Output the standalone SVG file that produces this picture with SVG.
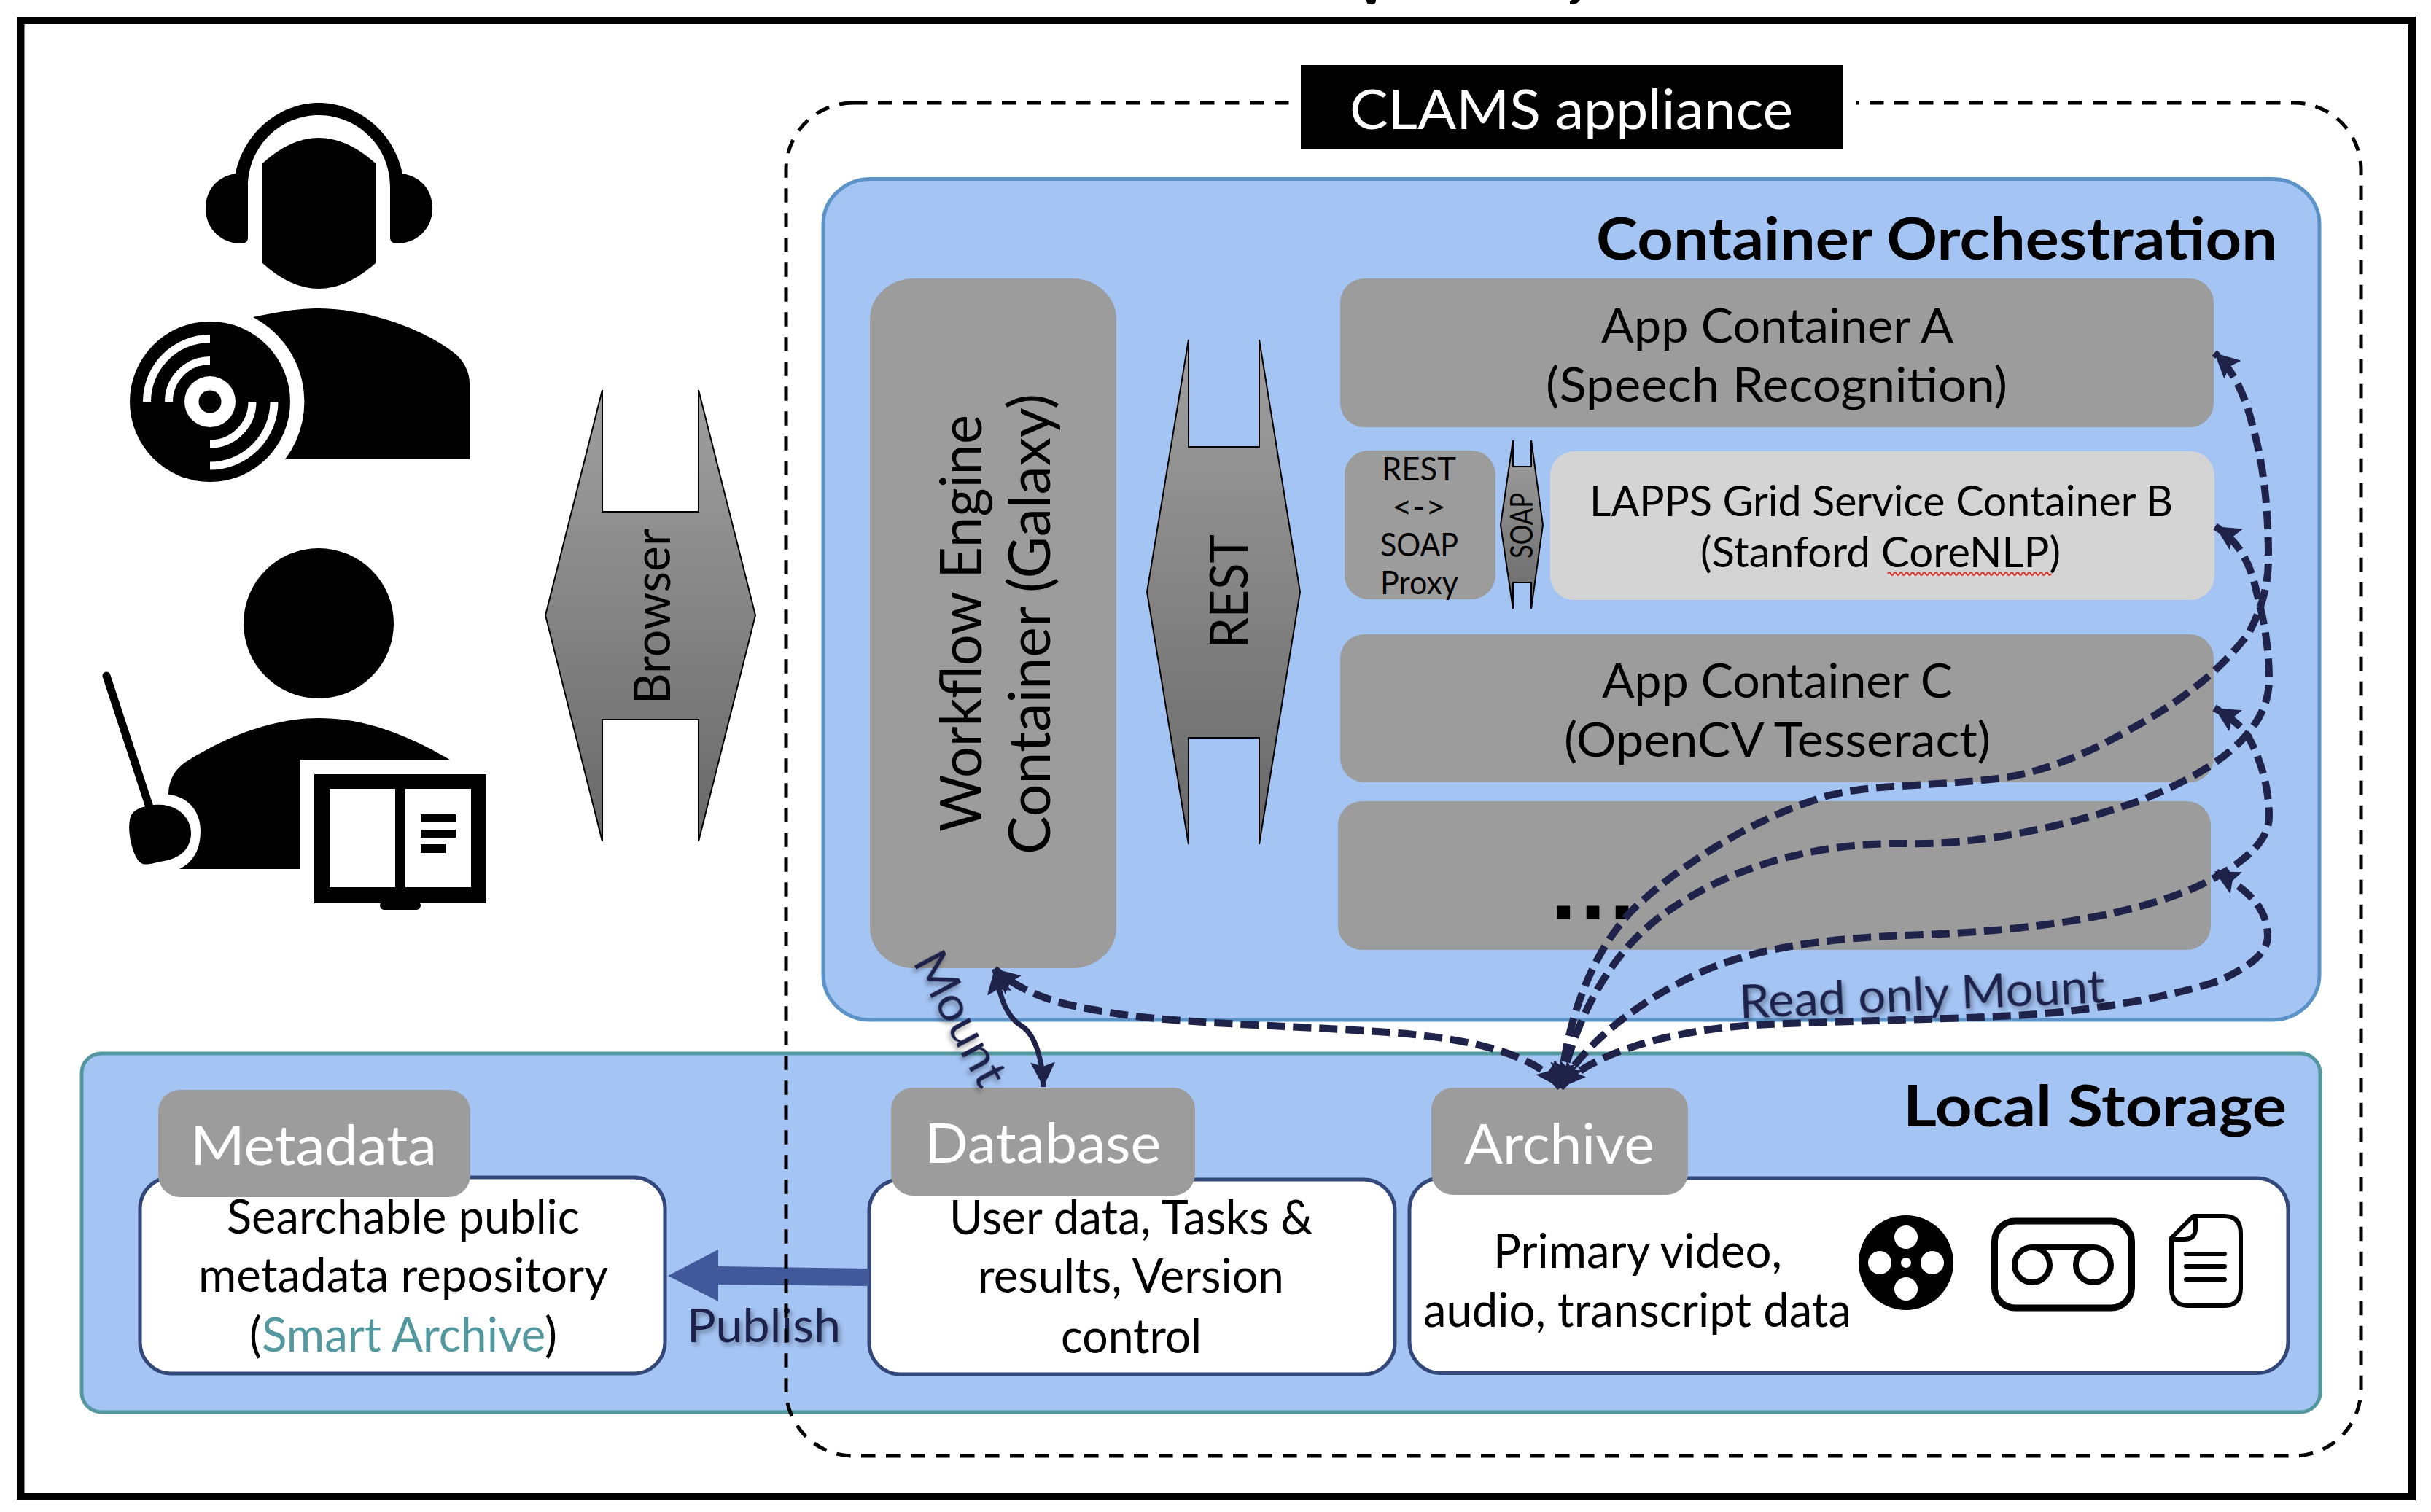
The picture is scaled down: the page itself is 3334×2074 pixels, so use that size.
<svg xmlns="http://www.w3.org/2000/svg" width="3334" height="2074" viewBox="0 0 3334 2074">
<style>
text{font-family:Lato,"Open Sans","Liberation Sans",sans-serif;fill:#000}
.c{font-size:66px}
.s{font-size:44px}
.w{fill:#fff;font-size:76px}
.b{font-weight:700;font-size:80px}
.n{fill:#1f2249;font-size:64px;filter:url(#sh)}
.g{fill:#9c9c9c}
.wb{fill:#fff;stroke:#32477a;stroke-width:5}
.pan{fill:#a4c4f4;stroke-width:5}
.dash{fill:none;stroke:#1f2249;stroke-width:10;stroke-dasharray:25 11;marker-end:url(#ah);marker-start:url(#ah)}
.arr{fill:url(#gr);stroke:#000;stroke-width:2}
.k{fill:#000}
.hole{fill:#fff}
</style>
<defs>
<linearGradient id="gr" x1="0" y1="0" x2="0" y2="1"><stop offset="0" stop-color="#a0a0a0"/><stop offset="1" stop-color="#686868"/></linearGradient>
<marker id="ah" markerUnits="userSpaceOnUse" viewBox="0 0 34 34" markerWidth="34" markerHeight="34" refX="34" refY="17" orient="auto-start-reverse"><path d="M0,0L34,17L0,34L6,17Z" fill="#1f2249"/></marker>
<filter id="sh" x="-20%" y="-20%" width="140%" height="140%"><feDropShadow dx="3" dy="4" stdDeviation="3" flood-color="#000" flood-opacity=".35"/></filter>
</defs>
<rect width="3334" height="2074" fill="#fff"/>
<g id="title-fragments" class="k"><rect x="1874" y="-8" width="13" height="14" rx="5"/><path d="M2160,-4L2168,-2Q2164,6 2156,6L2153,6L2153,2Z"/></g>
<rect id="frame" x="28.5" y="28" width="3279.5" height="2025" fill="none" stroke="#000" stroke-width="10"/>

<g id="user-archivist" class="k">
<path d="M360,224Q437,154 515,224V361Q437,431 360,361Z"/>
<path d="M282,286C282,258 300,242 323,238C335,180 385,141 437,141C490,141 540,180 552,238C575,242 593,258 593,286C593,315 570,334 545,334C540,334 535,332 535,326V257C535,200 490,158 437,158C385,158 340,200 340,257V326C340,332 336,334 330,334C305,334 282,315 282,286Z"/>
<path d="M347,435C385,427 410,423 437,423C500,423 580,450 624,485C638,497 644,512 644,526V630H391A131,131 0 0 0 347,435Z"/>
<circle cx="288" cy="551" r="110"/>
<circle cx="288" cy="551" r="35" fill="#fff"/><circle cx="288" cy="551" r="15.5"/>
<g fill="none" stroke="#fff" stroke-width="11"><path d="M201.500,551A86.500,86.500 0 0 1 288,464.500"/><path d="M231.500,551A56.500,56.500 0 0 1 288,494.500"/><path d="M346,551A58,58 0 0 1 288,609"/><path d="M376,551A88,88 0 0 1 288,639"/></g>
</g>
<g id="user-teacher" class="k">
<circle cx="437" cy="855" r="103"/>
<path d="M617,1042H411V1192H246C265,1183 275,1165 275,1140C275,1110 255,1092 231,1090C231,1070 240,1055 255,1045C310,1010 375,985 437,985C510,985 570,1015 617,1042Z"/>
<path d="M205,1105C240,1098 262,1120 262,1143C262,1165 245,1178 225,1181C205,1185 195,1190 188,1178C180,1165 175,1140 178,1125C180,1112 190,1108 205,1105Z"/>
<path d="M146,927L205,1107" stroke="#000" stroke-width="11" stroke-linecap="round"/>
<rect x="431" y="1062" width="236" height="177"/>
<rect x="521" y="1236" width="56" height="12" rx="6"/>
<rect class="hole" x="452" y="1082" width="90" height="135"/><rect class="hole" x="556" y="1082" width="90" height="135"/>
<rect x="577" y="1117" width="48" height="11"/><rect x="577" y="1138" width="48" height="11"/><rect x="577" y="1158" width="34" height="12"/>
</g>

<g id="browser-arrow"><path class="arr" d="M826,535V702H958V535L1036,844L958,1154V987H826V1154L748,844Z"/>
<text transform="translate(919,966) rotate(-90)" style="font-size:70px" textLength="241" lengthAdjust="spacingAndGlyphs">Browser</text></g>

<g id="container-orchestration"><rect class="pan" x="1129" y="245.500" width="2052" height="1153.500" rx="65" ry="62" stroke="#5b93c9"/>
<text class="b" x="2189" y="356" textLength="934" lengthAdjust="spacingAndGlyphs">Container Orchestration</text></g>
<g id="local-storage"><rect class="pan" x="112" y="1445" width="3070" height="492" rx="27" ry="27" stroke="#53989f"/>
<text class="b" style="font-size:78px" x="2610" y="1545" textLength="526" lengthAdjust="spacingAndGlyphs">Local Storage</text></g>

<g id="workflow-engine"><rect class="g" x="1193" y="382" width="338" height="946" rx="60" ry="56"/>
<text transform="translate(1346,1141) rotate(-90)" style="font-size:80px" textLength="572" lengthAdjust="spacingAndGlyphs">Workflow Engine</text>
<text transform="translate(1440,1172) rotate(-90)" style="font-size:80px" textLength="632" lengthAdjust="spacingAndGlyphs">Container (Galaxy)</text></g>
<g id="rest-arrow"><path class="arr" d="M1630,466V613H1727V466L1783,812L1727,1158V1012H1630V1158L1573,812Z"/>
<text transform="translate(1711,889) rotate(-90)" style="font-size:72px" textLength="156" lengthAdjust="spacingAndGlyphs">REST</text></g>
<g id="app-a"><rect class="g" x="1838" y="382" width="1198" height="204" rx="33"/>
<text class="c" x="2196" y="470" textLength="483" lengthAdjust="spacingAndGlyphs">App Container A</text>
<text class="c" x="2120" y="551" textLength="633" lengthAdjust="spacingAndGlyphs">(Speech Recognition)</text></g>
<g id="proxy"><rect class="g" x="1844" y="618" width="207" height="204" rx="33"/>
<text class="s" x="1895" y="659" textLength="102" lengthAdjust="spacingAndGlyphs">REST</text>
<text class="s" x="1909" y="711" textLength="74" lengthAdjust="spacingAndGlyphs">&lt;-&gt;</text>
<text class="s" x="1893" y="763" textLength="107" lengthAdjust="spacingAndGlyphs">SOAP</text>
<text class="s" x="1893" y="815" textLength="107" lengthAdjust="spacingAndGlyphs">Proxy</text></g>
<g id="soap-arrow"><path class="arr" d="M2075,604V640H2100V604L2116,720L2100,835V799H2075V835L2058,720Z"/>
<text transform="translate(2102,766) rotate(-90)" style="font-size:42px" textLength="90" lengthAdjust="spacingAndGlyphs">SOAP</text></g>
<g id="lapps"><rect x="2126" y="619" width="911" height="204" rx="33" fill="#d4d4d4"/>
<text style="font-size:58px" x="2180" y="708" textLength="800" lengthAdjust="spacingAndGlyphs">LAPPS Grid Service Container B</text>
<text style="font-size:58px" x="2332" y="778" textLength="494" lengthAdjust="spacingAndGlyphs">(Stanford CoreNLP)</text>
<path d="M2589,787q2,-4 4,0t4,0t4,0t4,0t4,0t4,0t4,0t4,0t4,0t4,0t4,0t4,0t4,0t4,0t4,0t4,0t4,0t4,0t4,0t4,0t4,0t4,0t4,0t4,0t4,0t4,0t4,0t4,0t4,0t4,0t4,0t4,0t4,0t4,0t4,0t4,0t4,0t4,0t4,0t4,0t4,0t4,0t4,0t4,0t4,0t4,0t4,0t4,0t4,0t4,0t4,0t4,0t4,0t4,0t4,0t4,0" fill="none" stroke="#e0261c" stroke-width="1.800"/></g>
<g id="app-c"><rect class="g" x="1838" y="870" width="1198" height="203" rx="33"/>
<text class="c" x="2197" y="957" textLength="481" lengthAdjust="spacingAndGlyphs">App Container C</text>
<text class="c" x="2145" y="1038" textLength="585" lengthAdjust="spacingAndGlyphs">(OpenCV Tesseract)</text></g>
<g id="app-more"><rect class="g" x="1835" y="1099" width="1197" height="204" rx="33"/>
<text x="2127" y="1261" style="font-family:'Liberation Sans',sans-serif;font-weight:700;font-size:125px" textLength="115" lengthAdjust="spacing">...</text></g>

<g id="metadata"><rect class="wb" x="192" y="1615" width="720" height="269" rx="43"/>
<rect class="g" x="217" y="1495" width="428" height="147" rx="30"/>
<text class="w" x="261" y="1598" textLength="338" lengthAdjust="spacingAndGlyphs">Metadata</text>
<text class="c" x="311" y="1692" textLength="484" lengthAdjust="spacingAndGlyphs">Searchable public</text>
<text class="c" x="272" y="1772" textLength="562" lengthAdjust="spacingAndGlyphs">metadata repository</text>
<text class="c" x="342" y="1854" textLength="422" lengthAdjust="spacingAndGlyphs">(<tspan fill="#53989f">Smart Archive</tspan>)</text></g>
<g id="database"><rect class="wb" x="1192" y="1618" width="721" height="267" rx="43"/>
<rect class="g" x="1222" y="1492" width="417" height="148" rx="30"/>
<text class="w" x="1268" y="1595" textLength="324" lengthAdjust="spacingAndGlyphs">Database</text>
<text class="c" x="1302" y="1693" textLength="499" lengthAdjust="spacingAndGlyphs">User data, Tasks &amp;</text>
<text class="c" x="1341" y="1773" textLength="420" lengthAdjust="spacingAndGlyphs">results, Version</text>
<text class="c" x="1455" y="1856" textLength="193" lengthAdjust="spacingAndGlyphs">control</text></g>
<g id="archive"><rect class="wb" x="1933" y="1616" width="1205" height="267.500" rx="43"/>
<rect class="g" x="1963" y="1492" width="352" height="147" rx="30"/>
<text class="w" x="2008" y="1596" textLength="261" lengthAdjust="spacingAndGlyphs">Archive</text>
<text class="c" x="2048" y="1739" textLength="396" lengthAdjust="spacingAndGlyphs">Primary video,</text>
<text class="c" x="1952" y="1820" textLength="587" lengthAdjust="spacingAndGlyphs">audio, transcript data</text>
<circle class="k" cx="2614" cy="1732" r="65"/>
<g class="hole"><circle cx="2614" cy="1697" r="16"/><circle cx="2614" cy="1768" r="16"/><circle cx="2578" cy="1732" r="16"/><circle cx="2650" cy="1732" r="16"/><circle cx="2614" cy="1732" r="7"/></g>
<rect x="2735.500" y="1675" width="188" height="119" rx="28" fill="none" stroke="#000" stroke-width="9"/>
<g fill="none" stroke="#000" stroke-width="8"><circle cx="2787" cy="1735" r="24"/><circle cx="2871" cy="1735" r="24"/><path d="M2787,1711H2871"/></g>
<path d="M3008,1668H3050Q3073,1668 3073,1692V1767Q3073,1791 3050,1791H3002Q2978,1791 2978,1767V1698ZM3011,1668V1685Q3011,1700 2995,1700H2978" fill="#fff" stroke="#000" stroke-width="6" stroke-linejoin="round"/>
<path d="M2998,1720H3051M2998,1737H3051M2998,1755H3051" stroke="#000" stroke-width="6" stroke-linecap="round"/></g>

<g id="connectors">
<path id="publish-arrow" d="M1192,1740L985,1737V1714L916,1750L985,1785V1762L1192,1764Z" fill="#41599b"/>
<path class="dash" d="M2140,1492C2150,1390 2188,1300 2241,1246C2295,1195 2395,1125 2505,1092C2570,1075 2630,1080 2740,1068C2800,1060 2860,1035 2917,1003C2990,963 3040,925 3083,870C3100,840 3111,805 3111,767C3111,700 3105,640 3090,587C3080,545 3065,510 3037,484"/>
<path class="dash" d="M2140,1492C2160,1400 2205,1310 2280,1255C2355,1200 2470,1155 2613,1157C2710,1160 2830,1135 2933,1099C2985,1078 3020,1060 3050,1037C3085,1010 3112,975 3112,933C3112,890 3105,850 3095,813C3088,780 3075,745 3038,722"/>
<path class="dash" d="M2140,1492C2165,1440 2245,1370 2348,1327C2445,1290 2550,1285 2662,1281C2790,1275 2935,1255 3024,1211C3085,1180 3112,1150 3112,1120C3112,1080 3100,1040 3083,1010C3073,995 3060,985 3037,971"/>
<path class="dash" d="M2140,1492C2180,1445 2295,1410 2427,1405C2540,1400 2690,1398 2779,1392C2885,1385 2985,1365 3044,1345C3088,1325 3110,1305 3110,1285C3110,1245 3083,1220 3037,1195"/>
<path class="dash" d="M2140,1492C2110,1450 2030,1425 1904,1416C1750,1405 1600,1405 1500,1385C1440,1375 1400,1360 1364,1329"/>
<path d="M1364,1329C1372,1370 1380,1395 1402,1408C1420,1420 1430,1455 1431,1491" fill="none" stroke="#1f2249" stroke-width="7" marker-start="url(#ah)" marker-end="url(#ah)"/>
<text class="n" transform="translate(2386,1397) rotate(-2.500)" textLength="502" lengthAdjust="spacingAndGlyphs">Read only Mount</text>
<text class="n" x="942" y="1841" textLength="211" lengthAdjust="spacingAndGlyphs">Publish</text>
<text class="n" transform="translate(1251,1319) rotate(62)" textLength="200" lengthAdjust="spacingAndGlyphs">Mount</text>
</g>

<g id="clams-appliance"><rect x="1078" y="141" width="2160" height="1856" rx="92" ry="92" fill="none" stroke="#000" stroke-width="5" stroke-dasharray="19.500 14.500"/>
<rect x="1777" y="120" width="769" height="50" fill="#fff"/>
<rect x="1784" y="89" width="744" height="116" fill="#000"/>
<text class="w" x="1851" y="177" textLength="608" lengthAdjust="spacingAndGlyphs">CLAMS appliance</text></g>
</svg>
